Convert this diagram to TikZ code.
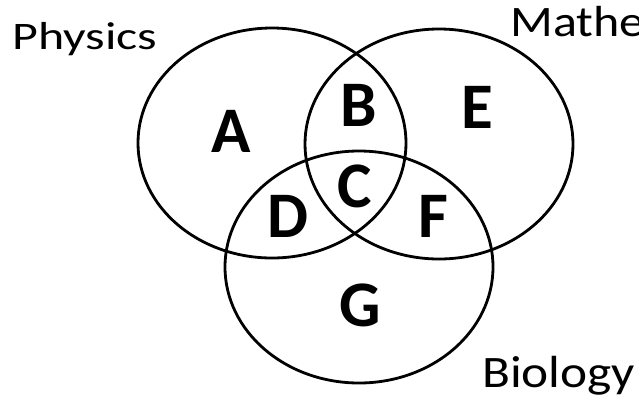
\documentclass[tikz,border=0pt]{standalone}
\usepackage{fontspec}
\setmainfont{Carlito}
\begin{document}
\begin{tikzpicture}[x=1pt,y=1pt,
  setring/.style={draw=black,line width=2.8pt},
  region/.style={inner sep=0pt,anchor=base,font=\fontsize{65}{70}\selectfont\bfseries},
  subject/.style={inner sep=0pt,anchor=base west,transform shape}]
\clip (0,0) rectangle (639,-397);
\fill[white] (0,0) rectangle (639,-397);
\draw[setring] (272,-143) ellipse [x radius=134, y radius=115];
\draw[setring] (439,-144) ellipse [x radius=134, y radius=115];
\draw[setring] (359,-267) ellipse [x radius=134, y radius=116];
\node[region] (a) at (231,-152) {A};
\node[region] (b) at (358.5,-126) {B};
\node[region] (e) at (477,-128) {E};
\node[region] (c) at (354.5,-207) {C};
\node[region] (d) at (288,-237) {D};
\node[region] (f) at (433,-237) {F};
\node[region] (g) at (360,-326) {G};
\begin{scope}[xscale=1.28]
\node[subject,font=\fontsize{39}{44}\selectfont] (phys) at (12/1.28,-49) {Physics};
\end{scope}
\begin{scope}[xscale=1.15]
\node[subject,font=\fontsize{43.5}{48}\selectfont] (math) at (510/1.15,-36) {Mathematics};
\end{scope}
\begin{scope}[xscale=1.14]
\node[subject,font=\fontsize{45}{50}\selectfont] (bio) at (482/1.14,-387) {Biology};
\end{scope}
\end{tikzpicture}
\end{document}
